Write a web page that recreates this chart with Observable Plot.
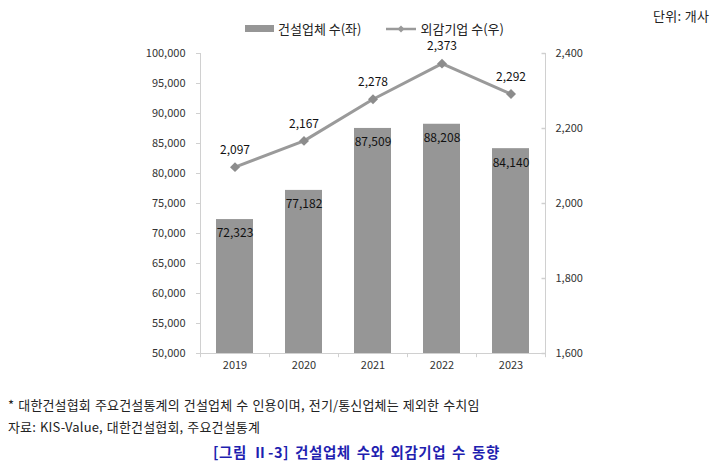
<!DOCTYPE html>
<html><head><meta charset="utf-8">
<script src="https://cdn.jsdelivr.net/npm/d3@7"></script>
<script src="https://cdn.jsdelivr.net/npm/@observablehq/plot@0.6"></script>
<style>
body{margin:0;width:725px;height:468px;position:relative;background:#fff;font-family:"Noto Sans CJK KR","Noto Sans",sans-serif;color:#222;overflow:hidden}
.abs{position:absolute;white-space:nowrap}
#chart{position:absolute;left:0;top:0}
</style></head><body>
<div id="chart"></div>
<div class="abs" style="left:653px;top:6px;font-size:13px;letter-spacing:0.3px">단위: 개사</div>
<div class="abs" style="left:245px;top:19px;font-size:13px;display:flex;align-items:center">
  <span style="display:inline-block;width:29px;height:7px;background:#969696;margin-right:4px"></span>건설업체 수(좌)
  <svg width="30" height="10" style="margin-left:25px;margin-right:4px"><line x1="0" y1="5" x2="30" y2="5" stroke="#9a9a9a" stroke-width="2.5"/><path d="M15,1.5L18.5,5L15,8.5L11.5,5Z" fill="#9a9a9a"/></svg>외감기업 수(우)
</div>
<div class="abs" style="left:8px;top:395px;font-size:13px;letter-spacing:0.15px;word-spacing:1px">* 대한건설협회 주요건설통계의 건설업체 수 인용이며, 전기/통신업체는 제외한 수치임</div>
<div class="abs" style="left:8px;top:417px;font-size:13px;letter-spacing:0.15px;word-spacing:1px">자료: KIS-Value, 대한건설협회, 주요건설통계</div>
<div class="abs" style="left:213px;top:441px;font-size:14.5px;font-weight:bold;color:#1f1fb0;letter-spacing:0.6px;word-spacing:2px">[그림 Ⅱ-3] 건설업체 수와 외감기업 수 동향</div>
<script>
const years = ["2019","2020","2021","2022","2023"];
const firms = [72323, 77182, 87509, 88208, 84140];
const audited = [2097, 2167, 2278, 2373, 2292];
const leftTicks = [50000,55000,60000,65000,70000,75000,80000,85000,90000,95000,100000];
const rightTicks = [1600,1800,2000,2200,2400];

const L0 = 50000, L1 = 100000, R0 = 1600, R1 = 2400;
const toLeft = v => L0 + (v - R0) / (R1 - R0) * (L1 - L0);
const fromLeft = v => Math.round(R0 + (v - L0) / (L1 - L0) * (R1 - R0));
const fmt = d3.format(",");

const bars = years.map((y, i) => ({year: y, value: firms[i]}));
const line = years.map((y, i) => ({year: y, value: audited[i], ly: toLeft(audited[i])}));
const first = years[0], last = years[years.length - 1];
const axisGray = "#d0d0d0";
const tickLeftSym = {draw(ctx) { ctx.moveTo(-4, 0); ctx.lineTo(0, 0); }};

const font = "'Noto Sans CJK KR','Noto Sans',sans-serif";
const chart = Plot.plot({
  width: 725, height: 380,
  marginLeft: 200, marginRight: 180, marginTop: 53, marginBottom: 27,
  style: {fontFamily: font, fontSize: "11px", color: "#333", background: "transparent"},
  x: {domain: years, paddingInner: 0.46, paddingOuter: 0.23, label: null},
  y: {domain: [L0, L1], label: null},
  marks: [
    Plot.barY(bars, {x: "year", y1: L0, y2: "value", fill: "#969696"}),
    Plot.ruleY([L0], {stroke: axisGray}),
    Plot.ruleX([first], {x: d => d, y1: L0, y2: L1, dx: -34.5, stroke: axisGray}),
    Plot.ruleX([last], {x: d => d, y1: L0, y2: L1, dx: 34.5, stroke: axisGray}),
    Plot.ruleX(years, {x: d => d, y1: L0, y2: L0 - 700, stroke: axisGray, dx: -34.5, clip: false}),
    Plot.ruleX([last], {x: d => d, y1: L0, y2: L0 - 700, stroke: axisGray, dx: 34.5, clip: false}),
    Plot.axisX({tickSize: 0, tickPadding: 8, fontSize: 11}),
    Plot.axisY({ticks: leftTicks, anchor: "left", tickSize: 4, tickPadding: 11, tickFormat: fmt, stroke: axisGray}),
    Plot.axisY({ticks: rightTicks.map(toLeft), anchor: "right", tickSize: 0, tickPadding: 10, tickFormat: d => fmt(fromLeft(d))}),
    Plot.dot(rightTicks.map(toLeft), {y: d => d, x: () => last, dx: 34.5, symbol: tickLeftSym, stroke: axisGray, fill: "none", r: 4}),
    Plot.text(bars, {x: "year", y: "value", text: d => fmt(d.value), dy: 14, fill: "#111", fontSize: 12}),
    Plot.line(line, {x: "year", y: "ly", stroke: "#9a9a9a", strokeWidth: 3}),
    Plot.dot(line, {x: "year", y: "ly", symbol: "diamond2", r: 4.5, fill: "#8c8c8c", stroke: "none"}),
    Plot.text(line, {x: "year", y: "ly", text: d => fmt(d.value), dy: -17, fill: "#111", fontSize: 12})
  ]
});
document.getElementById("chart").appendChild(chart);
</script>
</body></html>
